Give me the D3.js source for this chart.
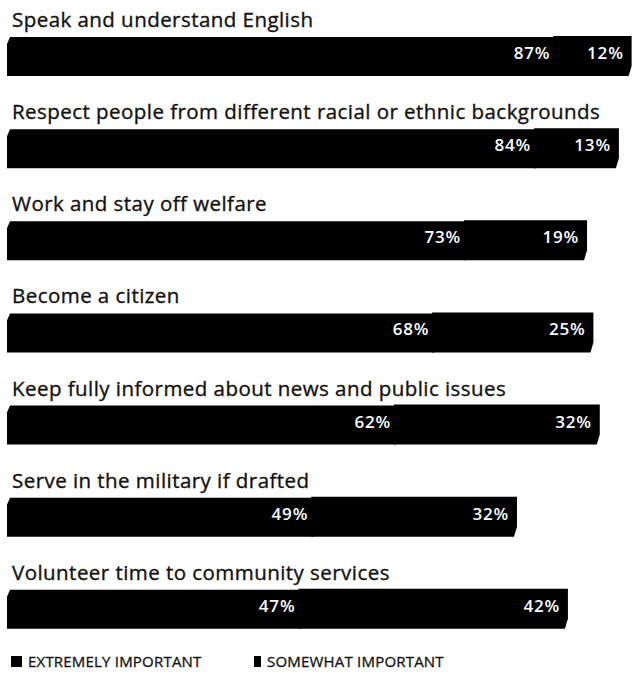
<!DOCTYPE html>
<html>
<head>
<meta charset="utf-8">
<script src="https://cdn.jsdelivr.net/npm/d3@7"></script>
<style>
  html, body { margin: 0; padding: 0; background: #fff; }
  svg { display: block; }
</style>
</head>
<body>
<svg id="chart" width="639" height="676"></svg>
<script>
// Share of respondents rating each duty of immigrants as important
const items = [
  "Speak and understand English",
  "Respect people from different racial or ethnic backgrounds",
  "Work and stay off welfare",
  "Become a citizen",
  "Keep fully informed about news and public issues",
  "Serve in the military if drafted",
  "Volunteer time to community services"
];
const extremely = [87, 84, 73, 68, 62, 49, 47];
const somewhat  = [12, 13, 19, 25, 32, 32, 42];
const legendLabels = ["EXTREMELY IMPORTANT", "SOMEWHAT IMPORTANT"];

const svg = d3.select("#chart");
const font = "'Open Sans', 'Noto Sans', sans-serif";

const x = d3.scaleLinear().domain([0, 100]).range([1, 638]);
const y = d3.scaleBand().domain(d3.range(items.length)).range([17, 662]);
const barTop = 20, barH = 39;
const left = 7; // bars start at the page margin

// bar shape: slanted left edge and clipped lower-right corner on the last segment
function barPath(x0, x1, top, h, first, last) {
  const p = d3.path();
  const s = first ? 3 : 0;
  p.moveTo(x0 + s, top);
  p.lineTo(x1, top);
  if (last) { p.lineTo(x1, top + h - 10); p.lineTo(x1 - 3, top + h); }
  else p.lineTo(x1, top + h);
  p.lineTo(x0, top + h);
  if (first) p.lineTo(x0, top + 7);
  p.closePath();
  return p.toString();
}

const rows = svg.selectAll("g.row").data(items).join("g")
  .attr("class", "row")
  .attr("transform", (d, i) => `translate(0,${y(i)})`);

rows.append("text")
  .attr("x", 12).attr("y", 10)
  .attr("font-family", font).attr("font-size", 20.5)
  .attr("letter-spacing", 0.45)
  .attr("fill", "#111").attr("stroke", "#111").attr("stroke-width", 0.35)
  .text(d => d);

// somewhat important segment (drawn first, tucked under the first segment)
rows.append("path")
  .attr("fill", "#000")
  .attr("d", (d, i) => barPath(x(extremely[i]) - 2, x(extremely[i] + somewhat[i]), barTop - 1, barH + 1, false, true));

// extremely important segment
rows.append("path")
  .attr("fill", "#000")
  .attr("d", (d, i) => barPath(Math.max(x(0), left), x(extremely[i]), barTop, barH, true, false));

// value labels, right-aligned inside each segment
const valueText = sel => sel
  .attr("y", barTop + 22)
  .attr("text-anchor", "end")
  .attr("font-family", font).attr("font-size", 17).attr("font-weight", 600)
  .attr("letter-spacing", 0.8)
  .attr("fill", "#fff");

rows.append("text")
  .attr("x", (d, i) => x(extremely[i]) - 5)
  .call(valueText)
  .text((d, i) => extremely[i] + "%");

rows.append("text")
  .attr("x", (d, i) => x(extremely[i] + somewhat[i]) - 8)
  .call(valueText)
  .text((d, i) => somewhat[i] + "%");

// legend
const legend = svg.append("g").attr("transform", "translate(0,667)");
const lx = [11, 254];
legend.selectAll("rect").data(legendLabels).join("rect")
  .attr("x", (d, i) => lx[i])
  .attr("y", -11)
  .attr("width", (d, i) => i ? 7 : 11)
  .attr("height", 11)
  .attr("fill", "#000");
legend.selectAll("text").data(legendLabels).join("text")
  .attr("x", (d, i) => lx[i] + (i ? 13 : 17))
  .attr("y", 0)
  .attr("font-family", font).attr("font-size", 15)
  .attr("letter-spacing", 0.2)
  .attr("fill", "#111").attr("stroke", "#111").attr("stroke-width", 0.3)
  .text(d => d);
</script>
</body>
</html>
